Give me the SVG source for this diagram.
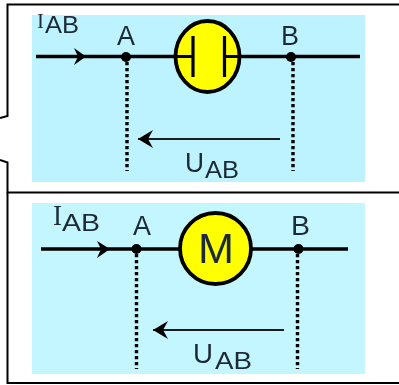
<svg xmlns="http://www.w3.org/2000/svg" width="399" height="385" viewBox="0 0 399 385">
<defs>
<filter id="soft" x="-5%" y="-5%" width="110%" height="110%"><feGaussianBlur stdDeviation="0.6"/></filter>
<marker id="head" markerUnits="userSpaceOnUse" markerWidth="18" markerHeight="20" refX="1" refY="10" orient="auto"><path d="M1 10 L16 1 L11 10 L16 19 Z" fill="#000"/></marker>
</defs>
<style>
.frame{fill:none;stroke:#000;stroke-width:2}
.wire{fill:none;stroke:#000;stroke-width:3.6}
.dots{fill:none;stroke:#000;stroke-width:3.4;stroke-dasharray:3.2 2.8}
.volt{fill:none;stroke:#1a1a1a;stroke-width:2;marker-start:url(#head)}
.flow{fill:#000}
.dot{fill:#000}
.body{fill:#ffff00;stroke:#000;stroke-width:3.8}
.plate{fill:none;stroke:#000;stroke-width:3.2}
text{font-family:"Liberation Sans",Arial,sans-serif;fill:#1f2c38}
.big{font-size:27px}
.sub{font-size:23px}
.serif{font-family:"Liberation Serif",serif}
</style>
<g id="connectors">
<path class="frame" d="M399 4.500H7.500V116L0 118M0 160L7.500 162.500V192.500H399"/>
<path class="frame" d="M7.500 192.500V383H399"/>
</g>
<g id="panel-capacitor">
<rect x="32" y="15" width="333" height="167" fill="#bdf3ff"/>
<g filter="url(#soft)">
<path class="wire" d="M36 56.500H176M240 56.500H360"/>
<path class="flow" d="M74 48L86 56.500L74 65L78 56.500Z"/>
<path class="dots" d="M127 62V171M293 62V171"/>
<circle class="dot" cx="126" cy="57" r="5"/>
<circle class="dot" cx="291" cy="57" r="5"/>
<path class="volt" d="M138 139H280"/>
<ellipse id="capacitor" class="body" cx="207.500" cy="56.500" rx="32" ry="35.500"/>
<path class="plate" d="M193 36V77M224.500 36V77M176 56.500H193M224.500 56.500H240"/>
<text class="serif" x="37" y="28" font-size="20" textLength="7" lengthAdjust="spacingAndGlyphs">I</text>
<text class="sub" x="45" y="33" textLength="34" lengthAdjust="spacingAndGlyphs">AB</text>
<text class="big" x="117" y="44.500" textLength="18" lengthAdjust="spacingAndGlyphs">A</text>
<text class="big" x="281" y="44.500" textLength="18" lengthAdjust="spacingAndGlyphs">B</text>
<text class="big" x="185" y="171.500" textLength="19" lengthAdjust="spacingAndGlyphs">U</text>
<text class="sub" x="205" y="177.500" textLength="34" lengthAdjust="spacingAndGlyphs">AB</text>
</g>
</g>
<g id="panel-motor">
<rect x="32" y="203" width="333" height="171" fill="#c4f6ff"/>
<g filter="url(#soft)">
<path class="wire" d="M41 249H180M252 249H348"/>
<path class="flow" d="M97 241L110 249L97 258L101 249Z"/>
<path class="dots" d="M136.500 254V369M297.500 254V369"/>
<circle class="dot" cx="136.500" cy="249" r="5"/>
<circle class="dot" cx="298.500" cy="249" r="5"/>
<path class="volt" d="M153 330H284"/>
<circle id="motor" class="body" cx="215.500" cy="248.500" r="35.500"/>
<text x="198" y="263" font-size="43" textLength="36" lengthAdjust="spacingAndGlyphs">M</text>
<text class="serif" x="53" y="225" font-size="30" textLength="9" lengthAdjust="spacingAndGlyphs">I</text>
<text class="sub" x="62" y="230.500" textLength="38" lengthAdjust="spacingAndGlyphs">AB</text>
<text class="big" x="133" y="235" textLength="18" lengthAdjust="spacingAndGlyphs">A</text>
<text class="big" x="291" y="235" textLength="19" lengthAdjust="spacingAndGlyphs">B</text>
<text class="big" x="193" y="362.500" textLength="20" lengthAdjust="spacingAndGlyphs">U</text>
<text class="sub" x="215" y="368.500" textLength="37" lengthAdjust="spacingAndGlyphs">AB</text>
</g>
</g>
</svg>
